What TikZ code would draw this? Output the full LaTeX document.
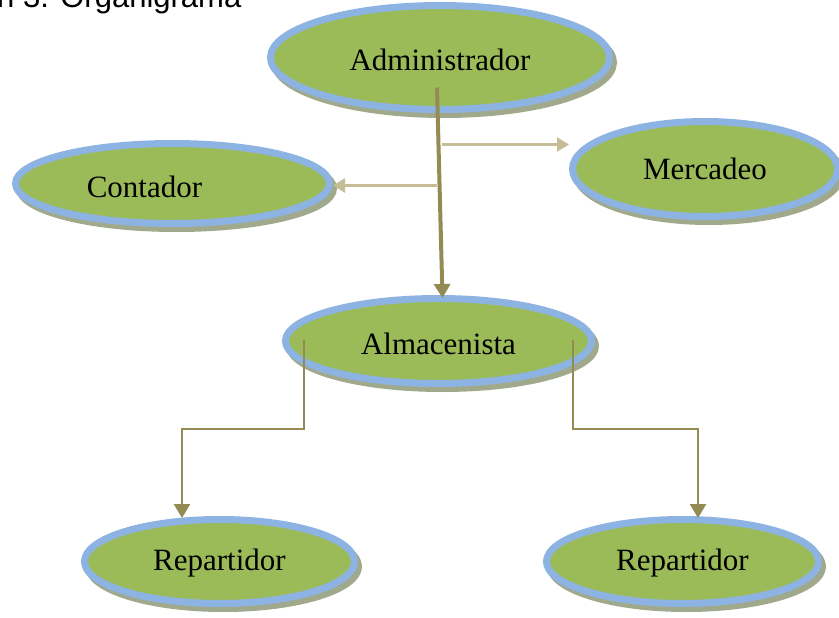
\documentclass[tikz,border=0pt]{standalone}
\usepackage{fontspec}
\setmainfont{Liberation Serif}
\newfontfamily\titlefont{Liberation Sans}
\usepackage{xcolor}
\usepackage{tikz}
\usetikzlibrary{arrows.meta,positioning,shapes.geometric,calc}
\definecolor{unitfill}{HTML}{9BBB59}
\definecolor{unitring}{HTML}{8DB3E2}
\definecolor{unitshade}{HTML}{A0A98B}
\definecolor{darkline}{HTML}{948A54}
\definecolor{lightline}{HTML}{C4BD97}

\begin{document}
\begin{tikzpicture}[x=1pt,y=-1pt,font=\fontsize{31}{34}\selectfont,
  unit/.style={ellipse,draw=unitring,line width=7pt,fill=unitfill,inner sep=0pt,
    preaction={draw=unitshade,fill=unitshade,line width=7pt,transform canvas={xshift=4pt,yshift=-5pt}}},
  arr/.style={-{Triangle[length=14pt,width=16pt]},draw=darkline,line width=2.7pt},
  larr/.style={-{Triangle[length=12pt,width=14pt]},draw=lightline,line width=2.5pt}]
\useasboundingbox (0,0) rectangle (839,618);
% titulo
\node[anchor=base west,inner sep=0pt,font=\titlefont\fontsize{31}{34}\selectfont] (title) at (-3,8) {n 3. Organigrama};
% cargos
\node[unit,minimum width=339pt,minimum height=104pt,label={[yshift=-2pt]center:Administrador}] (admin) at (440,57.5) {};
\node[unit,minimum width=314pt,minimum height=80pt,label={[xshift=-28pt,yshift=-3pt]center:Contador}] (cont) at (172.5,183.5) {};
\node[unit,minimum width=265pt,minimum height=95pt] (merc) at (705,169) {Mercadeo};
\node[unit,minimum width=306pt,minimum height=85pt,label={[yshift=-3pt]center:Almacenista}] (alm) at (438.5,341) {};
\node[unit,minimum width=270pt,minimum height=84pt,label={[yshift=-2pt]center:Repartidor}] (repa) at (219.5,561.5) {};
\node[unit,minimum width=272pt,minimum height=84pt,label={[yshift=-2pt]center:Repartidor}] (repb) at (682.5,561.5) {};
% conectores
\coordinate (top) at ($(admin.center)+(-3,30)$);
\coordinate (midm) at ($(top)+(0,57)$);
\coordinate (midc) at ($(top)+(0,98)$);
\coordinate (alma) at ($(alm.center)+(-134.5,-1)$);
\coordinate (almb) at ($(alm.center)+(134.5,-1)$);
\draw[arr,line width=4pt] (top) -- ([xshift=4pt,yshift=-3pt]alm.north);
\draw[larr] ([xshift=5pt]midm) -- (merc.west |- midm);
\draw[larr] (midc) -- (cont.east |- midc);
\draw[arr] (alma) -- ++(0,89) -| ([xshift=-37.5pt,yshift=-2pt]repa.north);
\draw[arr] (almb) -- ++(0,89) -| ([xshift=15.5pt,yshift=-2pt]repb.north);
\end{tikzpicture}
\end{document}
